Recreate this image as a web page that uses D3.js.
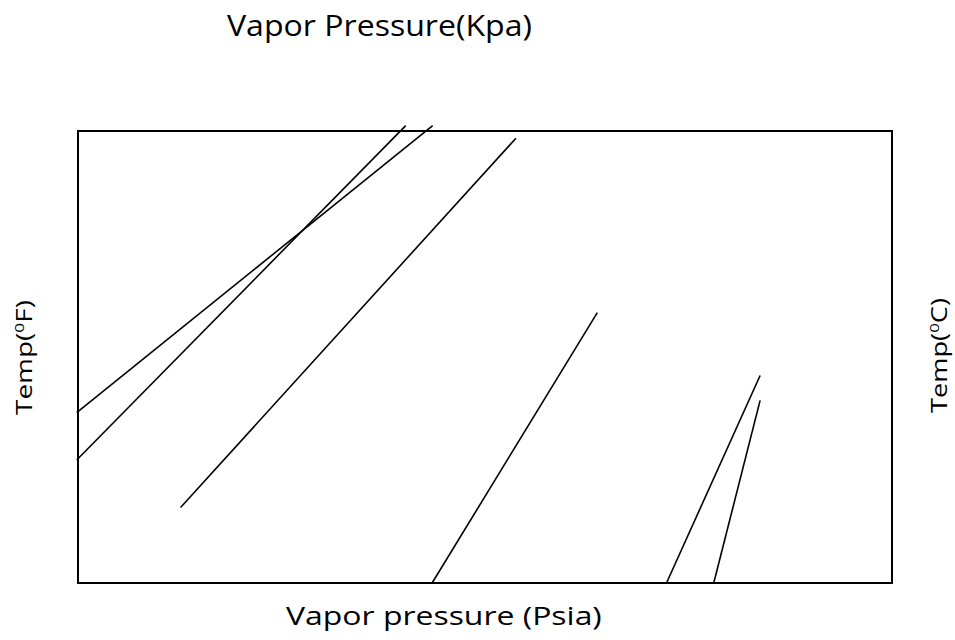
<!DOCTYPE html>
<html>
<head>
<meta charset="utf-8">
<script src="https://cdn.jsdelivr.net/npm/d3@7"></script>
<style>
  html, body { margin: 0; padding: 0; background: #fff; }
  svg { display: block; }
  text { font-family: "Open Sans", sans-serif; fill: #000; }
</style>
</head>
<body>
<svg id="chart" width="955" height="640"></svg>
<script>
// Vapor pressure curves: each drawn as a straight segment between two points
// (pressure in plot units along x, temperature in plot units along y).
const curveIds      = ["c1", "c2", "c3", "c4", "c5", "c6"];
const startPressure = [-0.16, -0.16, 12.6, 43.5, 72.3, 78.1];
const startTemp     = [37.7, 27.2, 16.7, 0, 0, 0];
const endPressure   = [43.57, 40.26, 53.8, 63.8, 83.8, 83.8];
const endTemp       = [101.2, 101.2, 98.4, 59.8, 45.9, 40.4];

const titleText  = "Vapor Pressure(Kpa)";
const xLabelText = "Vapor pressure (Psia)";
const yLeftMain  = "Temp(";
const yLeftUnit  = "F)";
const yRightUnit = "C)";

const svg = d3.select("#chart");

const x = d3.scaleLinear().domain([0, 100]).range([78, 892]);
const y = d3.scaleLinear().domain([0, 100]).range([583, 131]);

// plot frame
svg.append("rect")
  .attr("x", x(0)).attr("y", y(100))
  .attr("width", x(100) - x(0)).attr("height", y(0) - y(100))
  .attr("fill", "none").attr("stroke", "#000").attr("stroke-width", 2);

const curves = curveIds.map((id, i) => ({
  id,
  pts: [[startPressure[i], startTemp[i]], [endPressure[i], endTemp[i]]]
}));

const line = d3.line().x(d => x(d[0])).y(d => y(d[1]));

svg.append("g").selectAll("path").data(curves).join("path")
  .attr("d", d => line(d.pts))
  .attr("fill", "none").attr("stroke", "#000").attr("stroke-width", 1.6);

// stretch a text element horizontally so it spans the given width
function fitWidth(sel, width) {
  const w = sel.node().getComputedTextLength();
  return w > 0 ? width / w : 1;
}

// top title
const title = svg.append("text").attr("font-size", 29).text(titleText);
const sT = fitWidth(title, 305);
title.attr("transform", `translate(227,35.5) scale(${sT},1)`);

// bottom label
const xl = svg.append("text").attr("font-size", 25).text(xLabelText);
const sX = fitWidth(xl, 316);
xl.attr("transform", `translate(286,625) scale(${sX},1)`);

// rotated temperature labels
function tempLabel(unit, bx, by, len) {
  const t = svg.append("text").attr("font-size", 21);
  t.append("tspan").text(yLeftMain);
  t.append("tspan").attr("font-size", 13).attr("dy", -8).text("0");
  t.append("tspan").attr("dy", 8).text(unit);
  const s = fitWidth(t, len);
  t.attr("transform", `translate(${bx},${by}) rotate(-90) scale(${s},1)`);
}
tempLabel(yLeftUnit, 32.3, 415, 115);
tempLabel(yRightUnit, 946.7, 413, 115);
</script>
</body>
</html>
